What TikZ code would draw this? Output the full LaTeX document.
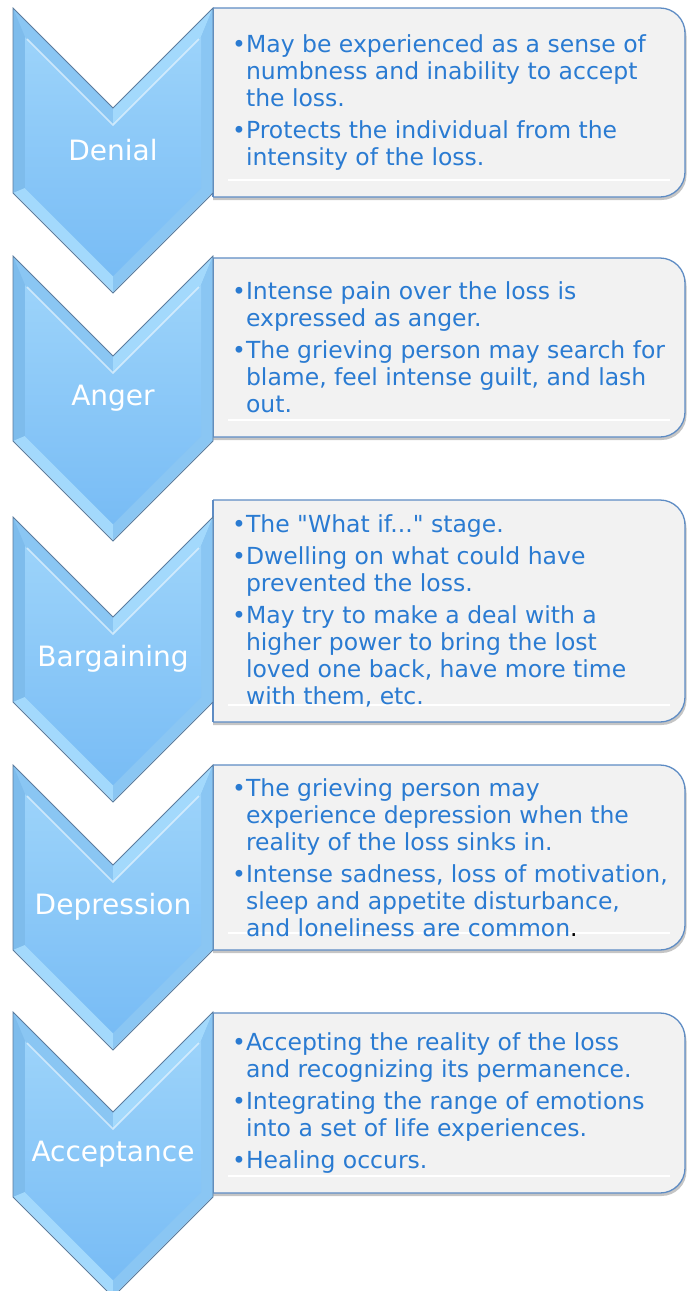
\documentclass[tikz,border=0pt]{standalone}
\usepackage{fontspec}
\setmainfont{DejaVu Sans}[Ligatures=TeXOff]
\usetikzlibrary{shadows}

\definecolor{txtblue}{HTML}{2A7BD2}
\definecolor{boxedge}{HTML}{5E8CC4}
\definecolor{boxfill}{HTML}{F2F2F2}
\definecolor{chevedge}{HTML}{5B7C9E}
\definecolor{chevtop}{HTML}{9CD3FA}
\definecolor{chevbot}{HTML}{78BCF5}
\definecolor{facetlight}{HTML}{A3D9FC}
\definecolor{facetmid}{HTML}{8AC6F3}
\definecolor{facetdark}{HTML}{7EBCEC}

\tikzset{
  stagelab/.style={text=white, font=\fontsize{28}{32}\selectfont, inner sep=0pt},
  bullets/.style={text=txtblue, font=\fontsize{23.5}{27}\selectfont, align=left, anchor=west, inner sep=0pt},
  boxline/.style={draw=boxedge, line width=1.3pt, fill=boxfill, rounded corners=25pt,
    drop shadow={shadow xshift=1.5pt, shadow yshift=-3pt, opacity=.45}},
}

\begin{document}
\begin{tikzpicture}[x=1pt,y=-1pt]
\useasboundingbox (0,0) rectangle (692,1291);
\fill[white] (0,0) rectangle (692,1291);

% text boxes
\foreach \bt/\bb in {8/197,258/437,500/722,765/950,1013/1193}{
  \begin{scope}
    \clip (213,\bt-6) rectangle (692,\bb+8);
    \draw[boxline] (170,\bt) rectangle (685,\bb);
  \end{scope}
  \draw[boxedge, line width=1.3pt] (213,\bt) -- (213,\bb);
  \draw[white, line width=2pt] (228,\bb-17) -- (670,\bb-17);
  \draw[black!5, line width=2.5pt] (228,\bb-14.5) -- (670,\bb-14.5);
}

% chevrons
\foreach \y/\lab/\nm in {8/Denial/denial,256/Anger/anger,517/Bargaining/bargaining,765/Depression/depression,1012/Acceptance/acceptance}{
  \fill[facetmid] (13,\y) -- (113,\y+100) -- (213,\y) -- (213,\y+185) -- (113,\y+285) -- (13,\y+185) -- cycle;
  \fill[facetmid] (13,\y) -- (113,\y+100) -- (113,\y+117) -- (25,\y+29) -- cycle;
  \fill[facetlight] (113,\y+100) -- (213,\y) -- (201,\y+29) -- (113,\y+117) -- cycle;
  \fill[facetdark] (13,\y) -- (25,\y+29) -- (25,\y+180) -- (13,\y+185) -- cycle;
  \fill[facetmid] (213,\y) -- (213,\y+185) -- (201,\y+180) -- (201,\y+29) -- cycle;
  \fill[facetlight] (13,\y+185) -- (113,\y+285) -- (113,\y+268) -- (25,\y+180) -- cycle;
  \fill[facetmid] (213,\y+185) -- (113,\y+285) -- (113,\y+268) -- (201,\y+180) -- cycle;
  \shade[top color=chevtop, bottom color=chevbot] (25,\y+29) -- (113,\y+117) -- (201,\y+29) -- (201,\y+180) -- (113,\y+268) -- (25,\y+180) -- cycle;
  \draw[white, opacity=.55, line width=1.5pt] (27,\y+31) -- (113,\y+117) -- (199,\y+31);
  \draw[white, opacity=.5, line width=1.2pt] (15,\y+187) -- (113,\y+285) -- (211,\y+187);
  \draw[chevedge, line width=.8pt, line join=miter] (13,\y) -- (113,\y+100) -- (213,\y) -- (213,\y+185) -- (113,\y+285) -- (13,\y+185) -- cycle;
  \node[stagelab] (\nm) at (113,\y+142) {\lab};
}

% box texts
\node[bullets] (denialtxt) at (232,102.5) {•May be experienced as a sense of\\
\hphantom{•}numbness and inability to accept\\
\hphantom{•}the loss.\\[5pt]
•Protects the individual from the\\
\hphantom{•}intensity of the loss.};
\node[bullets] (angertxt) at (232,347.5) {•Intense pain over the loss is\\
\hphantom{•}expressed as anger.\\[5pt]
•The grieving person may search for\\
\hphantom{•}blame, feel intense guilt, and lash\\
\hphantom{•}out.};
\node[bullets] (bargainingtxt) at (232,611) {•The "What if..." stage.\\[5pt]
•Dwelling on what could have\\
\hphantom{•}prevented the loss.\\[5pt]
•May try to make a deal with a\\
\hphantom{•}higher power to bring the lost\\
\hphantom{•}loved one back, have more time\\
\hphantom{•}with them, etc.};
\node[bullets] (depressiontxt) at (232,857.5) {•The grieving person may\\
\hphantom{•}experience depression when the\\
\hphantom{•}reality of the loss sinks in.\\[5pt]
•Intense sadness, loss of motivation,\\
\hphantom{•}sleep and appetite disturbance,\\
\hphantom{•}and loneliness are common\textcolor{black}{.}};
\node[bullets] (acceptancetxt) at (232,1103) {•Accepting the reality of the loss\\
\hphantom{•}and recognizing its permanence.\\[5pt]
•Integrating the range of emotions\\
\hphantom{•}into a set of life experiences.\\[5pt]
•Healing occurs.};
\end{tikzpicture}
\end{document}
